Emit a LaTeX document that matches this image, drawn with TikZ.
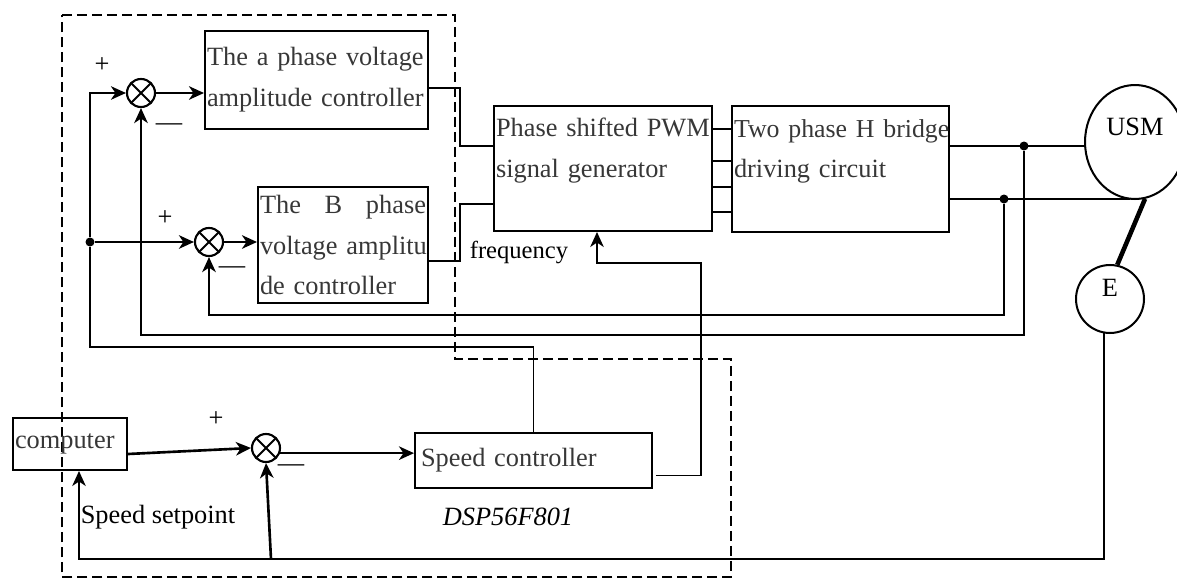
\documentclass[tikz,border=0pt]{standalone}
\usepackage{fontspec}
\setmainfont{Liberation Serif}
\usepackage{tikz}
\usetikzlibrary{positioning, arrows.meta, calc, shapes.geometric}
\definecolor{BoxText}{RGB}{55,55,55}
\tikzset{
  blk/.style={draw, line width=1.15pt, inner xsep=1pt, inner ysep=0pt, align=left,
    text=BoxText, font=\fontsize{15}{23.3}\selectfont},
  sumc/.style={circle, draw, line width=1.2pt, minimum size=0.56cm, inner sep=0pt,
    path picture={\draw[line width=1.2pt] (path picture bounding box.north west) -- (path picture bounding box.south east)
      (path picture bounding box.north east) -- (path picture bounding box.south west);}},
  jdot/.style={circle, fill, inner sep=0pt, minimum size=0.18cm},
  arr/.style={-{Stealth[length=0.3cm, width=0.27cm, inset=0.09cm]}, line width=1.5pt},
  thinarr/.style={-{Stealth[length=0.3cm, width=0.27cm, inset=0.09cm]}, line width=1.1pt},
  wire/.style={line width=1.05pt},
  lbl/.style={font=\fontsize{15}{18}\selectfont, inner sep=0pt},
  dsp/.style={draw, line width=0.9pt, dash pattern=on 0.2cm off 0.1cm},
}

\begin{document}
\begin{tikzpicture}[x=0.02cm, y=-0.02cm]
    \useasboundingbox (0,0) rectangle (1177,578);
    \draw[dsp] (62,15) -| (455,359) -| (731,577) -| (62,15) -- cycle;
    \node[blk, minimum width=4.46cm, text width=4.38cm, minimum height=1.96cm] (ampa) at (316.5,80) {\mbox{The a phase voltage}\\\mbox{amplitude controller}};
    \node[blk, minimum width=3.4cm, text width=3.32cm, minimum height=2.32cm] (ampb) at (343,245) {\hbox to 3.32cm{The\hfill B\hfill phase}\\\mbox{voltage amplitu}\\de controller};
    \node[blk, minimum width=4.36cm, text width=4.28cm, minimum height=2.5cm] (pwm) at (603,168.5) {\mbox{Phase shifted PWM}\\signal generator\\\mbox{}};
    \node[blk, minimum width=4.34cm, text width=4.26cm, minimum height=2.52cm] (hbr) at (840.5,169) {\mbox{\fontsize{14.7}{23.3}\selectfont Two phase H bridge}\\driving circuit\\\mbox{}};
    \node[blk, minimum width=4.74cm, text width=4.5cm, minimum height=1.1cm] (spd) at (533.5,460.5) {Speed controller};
    \node[blk, minimum width=2.28cm, text width=2.2cm, minimum height=1.04cm] (comp) at (70,444) {computer};
    \node[sumc] (s1) at (141,93) {};
    \node[sumc] (s2) at (209,242) {};
    \node[sumc] (s3) at (266,448) {};
    \node[draw, ellipse, line width=1.15pt, minimum width=2cm, minimum height=2.28cm] (usm) at (1135,142) {};
    \node[lbl] (usmlbl) at (1135,127) {USM};
    \node[draw, circle, line width=1.15pt, minimum size=1.36cm, inner sep=0pt] (enc) at (1110,299) {};
    \node[lbl] (enclbl) at (1110,288) {E};
    \coordinate (ha) at ($(hbr.east)+(0,-23)$);
    \coordinate (hb) at ($(hbr.east)+(0,30)$);
    \node[jdot] (ja) at ($(ha)+(74,0)$) {};
    \node[jdot] (jb) at ($(hb)+(54,0)$) {};
    \node[jdot] (jc) at (90,242) {};
    \node[lbl] (p1) at (102,65) {+};
    \node[lbl] (m1) at (169,127) {—};
    \node[lbl] (p2) at (165,218) {+};
    \node[lbl] (m2) at (232,270) {—};
    \node[lbl] (p3) at (216,419) {+};
    \node[lbl] (m3) at (291,468) {—};
    \node[lbl, font=\fontsize{14}{17}\selectfont] (freq) at (519,252) {frequency};
    \node[lbl] (setp) at (158,517) {Speed setpoint};
    \node[lbl, font=\fontsize{15}{18}\selectfont\itshape] (dsplbl) at (508,517) {DSP56F801};
    \draw[arr] (s1.east) -- (s1.east -| ampa.west);
    \draw[arr] (s2.east) -- (s2.east -| ampb.west);
    \draw[wire] ($(ampa.east)+(0,8)$) -| ($(pwm.west)+(-33,-22.5)$) -- ($(pwm.west)+(0,-22.5)$);
    \draw[wire] ($(ampb.east)+(0,16)$) -| ($(pwm.west)+(-33,35.5)$) -- ($(pwm.west)+(0,35.5)$);
    \foreach \dy in {-39.5,-7.5,18.5,43.5}
      \draw[wire] ($(pwm.east)+(0,\dy)$) coordinate (p) -- (p -| hbr.west);
    \draw[wire] (ha) -- (ha -| usm.west);
    \draw[wire] (hb) -- (hb -| usm.-95);
    \draw[line width=2.6pt] (usm.-80) -- (enc.78);
    \draw[arr] (ja) -- ++(0,189) -| (s1.south);
    \draw[arr] (jb) -- ++(0,116) -| (s2.south);
    \draw[wire] (spd.north) -- ++(0,-85) -| (jc);
    \draw[thinarr] (jc) |- (s1.west);
    \draw[arr] (jc) -- (s2.west);
    \draw[thinarr] ($(spd.east)+(3,15)$) -- ++(45,0) |- ($(pwm.south)+(-6,31)$) -- ($(pwm.south)+(-6,0)$);
    \draw[arr] ($(comp.east)+(0,10)$) -- (s3.west);
    \draw[arr] (s3.-20) -- (s3.-20 -| spd.west);
    \draw[thinarr] (enc.-100) -- ++(0,225.5) -| ($(comp.south)+(9,0)$);
    \draw[arr] ($(s3.south)+(5,96)$) -- (s3.south);
\end{tikzpicture}
\end{document}
